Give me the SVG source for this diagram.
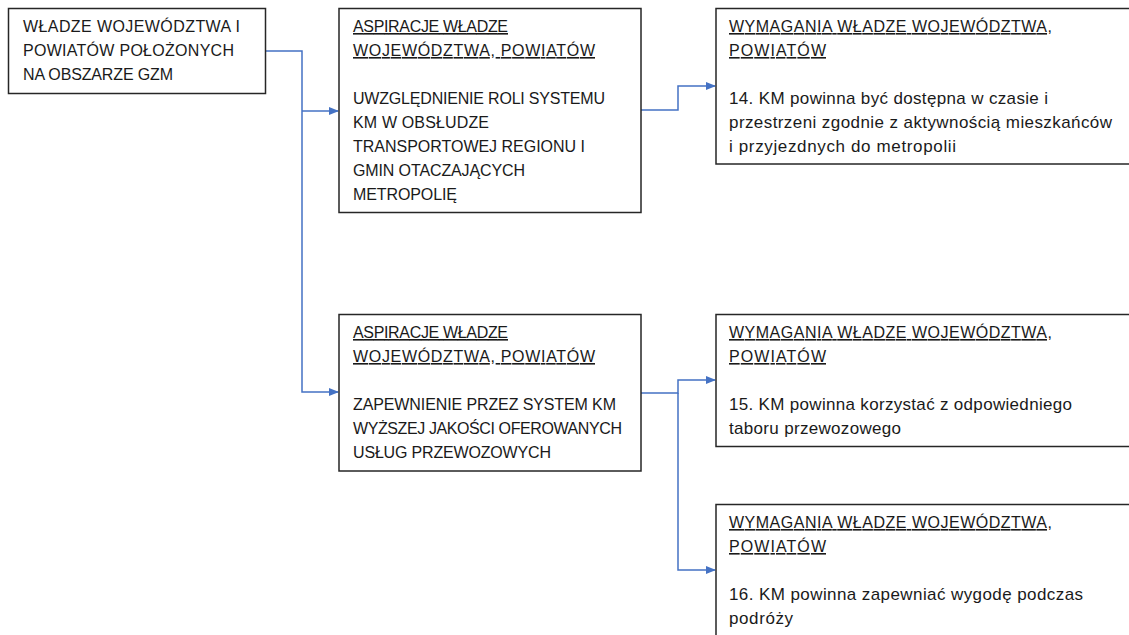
<svg xmlns="http://www.w3.org/2000/svg" width="1129" height="635" viewBox="0 0 1129 635">
<style>
.box{fill:#fff;stroke:#262626;stroke-width:1.5}
.t{font-family:"Liberation Sans",Arial,sans-serif;font-size:16px;fill:#1a1a1a}
.l{font-size:17px}
.u{text-decoration:underline}
.c{fill:none;stroke:#4472C4;stroke-width:1.5}
</style>
<defs>
<marker id="ah" markerWidth="10" markerHeight="8" refX="9" refY="4" orient="auto" markerUnits="userSpaceOnUse">
<path d="M0,0 L10,4 L0,8 Z" fill="#4472C4"/>
</marker>
</defs>
<rect width="1129" height="635" fill="#fff"/>
<g id="connectors">
<path class="c" d="M265,51 H302 V392 H338" marker-end="url(#ah)"/>
<path class="c" d="M302,111 H338" marker-end="url(#ah)"/>
<path class="c" d="M641,110 H678 V86 H715" marker-end="url(#ah)"/>
<path class="c" d="M641,393 H678 V380 H715" marker-end="url(#ah)"/>
<path class="c" d="M678,393 V570 H715" marker-end="url(#ah)"/>
</g>
<g id="n1">
<rect class="box" x="8.5" y="8.5" width="257" height="85"/>
<text class="t" x="23" y="32" textLength="217" lengthAdjust="spacing">WŁADZE WOJEWÓDZTWA I</text>
<text class="t" x="23" y="56" textLength="211" lengthAdjust="spacing">POWIATÓW POŁOŻONYCH</text>
<text class="t" x="23" y="80" textLength="150" lengthAdjust="spacing">NA OBSZARZE GZM</text>
</g>
<g id="n2">
<rect class="box" x="339" y="8.5" width="302" height="204"/>
<text class="t u" x="353" y="32" textLength="155" lengthAdjust="spacing">ASPIRACJE WŁADZE</text>
<text class="t u" x="353" y="56" textLength="242" lengthAdjust="spacing">WOJEWÓDZTWA, POWIATÓW</text>
<text class="t" x="353" y="104" textLength="252" lengthAdjust="spacing">UWZGLĘDNIENIE ROLI SYSTEMU</text>
<text class="t" x="353" y="128" textLength="136" lengthAdjust="spacing">KM W OBSŁUDZE</text>
<text class="t" x="353" y="152" textLength="232" lengthAdjust="spacing">TRANSPORTOWEJ REGIONU I</text>
<text class="t" x="353" y="176" textLength="172" lengthAdjust="spacing">GMIN OTACZAJĄCYCH</text>
<text class="t" x="353" y="200" textLength="104" lengthAdjust="spacing">METROPOLIĘ</text>
</g>
<g id="n3">
<rect class="box" x="716" y="8.5" width="420" height="155.5"/>
<text class="t u" x="729" y="32" textLength="323" lengthAdjust="spacing">WYMAGANIA WŁADZE WOJEWÓDZTWA,</text>
<text class="t u" x="729" y="56" textLength="97" lengthAdjust="spacing">POWIATÓW</text>
<text class="t l" x="729" y="104" textLength="319" lengthAdjust="spacing">14. KM powinna być dostępna w czasie i</text>
<text class="t l" x="729" y="128" textLength="383" lengthAdjust="spacing">przestrzeni zgodnie z aktywnością mieszkańców</text>
<text class="t l" x="729" y="152" textLength="227" lengthAdjust="spacing">i przyjezdnych do metropolii</text>
</g>
<g id="n4">
<rect class="box" x="339" y="314.5" width="302" height="156.5"/>
<text class="t u" x="353" y="338" textLength="155" lengthAdjust="spacing">ASPIRACJE WŁADZE</text>
<text class="t u" x="353" y="362" textLength="242" lengthAdjust="spacing">WOJEWÓDZTWA, POWIATÓW</text>
<text class="t" x="353" y="410" textLength="263" lengthAdjust="spacing">ZAPEWNIENIE PRZEZ SYSTEM KM</text>
<text class="t" x="353" y="434" textLength="269" lengthAdjust="spacing">WYŻSZEJ JAKOŚCI OFEROWANYCH</text>
<text class="t" x="353" y="458" textLength="198" lengthAdjust="spacing">USŁUG PRZEWOZOWYCH</text>
</g>
<g id="n5">
<rect class="box" x="716" y="314.5" width="420" height="132"/>
<text class="t u" x="729" y="338" textLength="323" lengthAdjust="spacing">WYMAGANIA WŁADZE WOJEWÓDZTWA,</text>
<text class="t u" x="729" y="362" textLength="97" lengthAdjust="spacing">POWIATÓW</text>
<text class="t l" x="729" y="410" textLength="343" lengthAdjust="spacing">15. KM powinna korzystać z odpowiedniego</text>
<text class="t l" x="729" y="434" textLength="172" lengthAdjust="spacing">taboru przewozowego</text>
</g>
<g id="n6">
<rect class="box" x="716" y="504.5" width="420" height="140"/>
<text class="t u" x="729" y="528" textLength="323" lengthAdjust="spacing">WYMAGANIA WŁADZE WOJEWÓDZTWA,</text>
<text class="t u" x="729" y="552" textLength="97" lengthAdjust="spacing">POWIATÓW</text>
<text class="t l" x="729" y="600" textLength="354" lengthAdjust="spacing">16. KM powinna zapewniać wygodę podczas</text>
<text class="t l" x="729" y="624" textLength="64" lengthAdjust="spacing">podróży</text>
</g>
</svg>
